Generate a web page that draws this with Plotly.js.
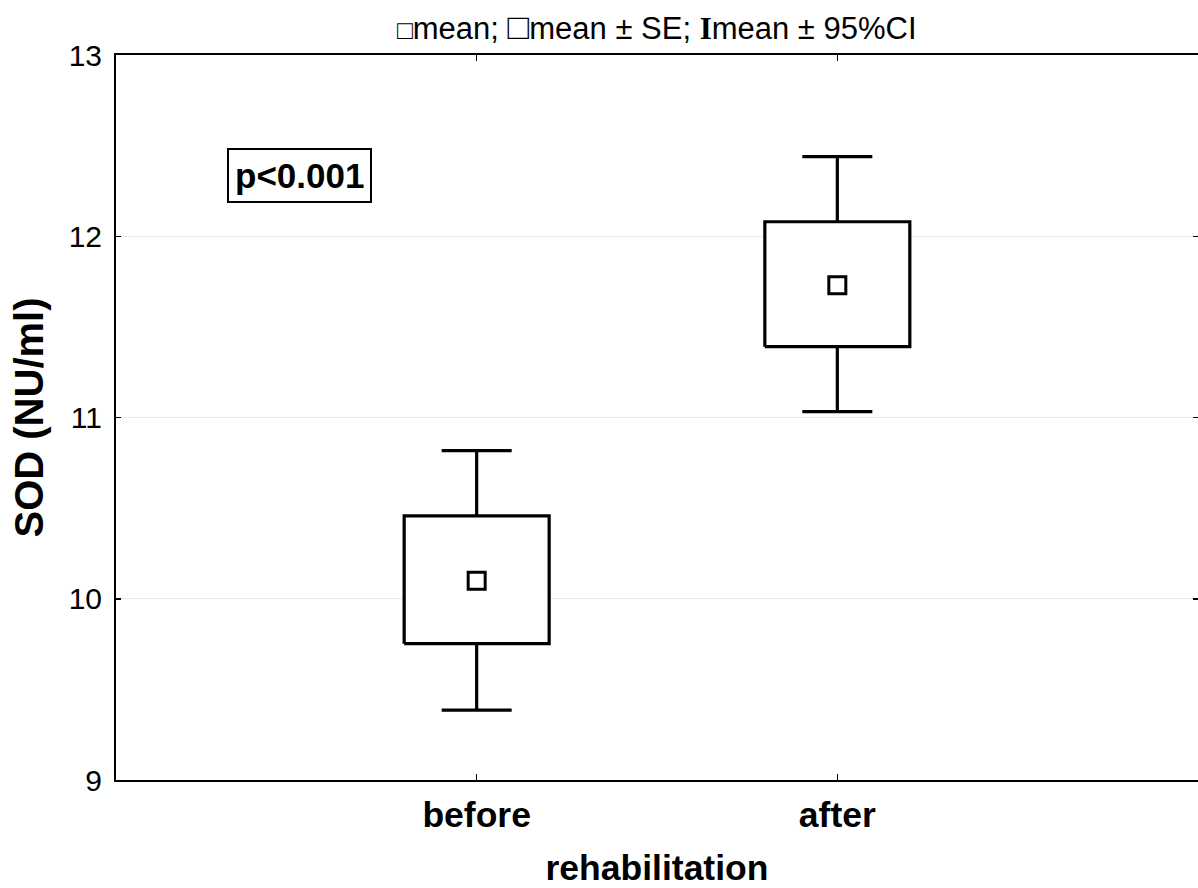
<!DOCTYPE html>
<html>
<head>
<meta charset="utf-8">
<script src="https://cdn.plot.ly/plotly-3.0.1.min.js"></script>
<style>html,body{margin:0;padding:0;background:#fff;}#chart{width:1198px;height:888px;}</style>
</head>
<body>
<div id="chart"></div>
<script>
// Data
var categories = ['before', 'after'];
var positions = [1, 2];
var means = [10.10, 11.73];
var seLow = [9.752, 11.391];
var seHigh = [10.457, 12.080];
var ciLow = [9.386, 11.032];
var ciHigh = [10.817, 12.439];
var yTicks = [9, 10, 11, 12, 13];

var HALF = 0.201; // box half width (style)
var FONT = 'Liberation Sans, Arial, sans-serif';

// box outlines built from the data
var bx = [], by = [];
positions.forEach(function (c, i) {
  bx.push(c - HALF, c + HALF, c + HALF, c - HALF, c - HALF, null);
  by.push(seLow[i], seLow[i], seHigh[i], seHigh[i], seLow[i], null);
});

var traces = [
  { // 95% CI whiskers
    type: 'scatter', mode: 'markers', x: positions, y: means,
    marker: { opacity: 0, size: 2 },
    error_y: {
      type: 'data', symmetric: false,
      array: ciHigh.map(function (v, i) { return v - means[i]; }),
      arrayminus: ciLow.map(function (v, i) { return means[i] - v; }),
      width: 35, thickness: 3.2, color: '#000'
    },
    hoverinfo: 'skip', showlegend: false
  },
  { // mean ± SE boxes
    type: 'scatter', mode: 'lines', x: bx, y: by,
    fill: 'toself', fillcolor: '#ffffff',
    line: { color: '#000', width: 3.2 },
    hoverinfo: 'skip', showlegend: false
  },
  { // means
    type: 'scatter', mode: 'markers', x: positions, y: means,
    marker: { symbol: 'square', size: 17, color: '#ffffff', line: { color: '#000', width: 3 } },
    showlegend: false
  }
];

var layout = {
  width: 1198, height: 888,
  margin: { l: 116, r: 0, t: 55, b: 108 },
  paper_bgcolor: '#fff', plot_bgcolor: '#fff',
  showlegend: false,
  font: { family: FONT, color: '#000' },
  xaxis: {
    range: [0, 3], tickmode: 'array', tickvals: positions,
    ticktext: categories.map(function (c) { return '<b>' + c + '</b>'; }),
    tickfont: { size: 35.5, family: FONT, color: '#000' },
    ticks: 'inside', ticklen: 6, tickwidth: 1.5, tickcolor: '#000',
    showline: true, linecolor: '#000', linewidth: 2, mirror: 'ticks',
    showgrid: false, zeroline: false,
    ticklabelstandoff: 2,
    title: { text: '<b>rehabilitation</b>', font: { size: 35.5, family: FONT, color: '#000' }, standoff: 22 }
  },
  yaxis: {
    range: [9, 13], tickmode: 'array', tickvals: yTicks,
    ticktext: yTicks.map(String),
    tickfont: { size: 30, family: FONT, color: '#000' },
    ticks: 'inside', ticklen: 5, tickwidth: 1.5, tickcolor: '#000',
    showline: true, linecolor: '#000', linewidth: 2, mirror: 'ticks',
    showgrid: true, gridcolor: '#e9e9e9', gridwidth: 1.2, zeroline: false,
    ticklabelstandoff: 6,
    title: { text: '<b>SOD (NU/ml)</b>', font: { size: 40, family: FONT, color: '#000' }, standoff: 13 }
  },
  annotations: [
    {
      xref: 'paper', yref: 'paper', x: 0.5, y: 1, yanchor: 'bottom', xanchor: 'center', yshift: 6,
      showarrow: false,
      text: '<span style="font-size:26px"><b>□</b></span>mean; <span style="font-size:36px"><b>□</b></span>mean ± SE; <span style="font-family:Liberation Serif"><b>I</b></span>mean ± 95%CI',
      font: { size: 31, family: FONT, color: '#000' }
    },
    {
      xref: 'paper', yref: 'paper', x: 0.1695, y: 0.834, xanchor: 'center', yanchor: 'middle',
      showarrow: false, text: '<b>p<0.001</b>',
      font: { size: 35, family: FONT, color: '#000' },
      bordercolor: '#000', borderwidth: 2, borderpad: 6, bgcolor: '#fff'
    }
  ]
};

Plotly.newPlot('chart', traces, layout, { staticPlot: true, displayModeBar: false });
</script>
</body>
</html>
